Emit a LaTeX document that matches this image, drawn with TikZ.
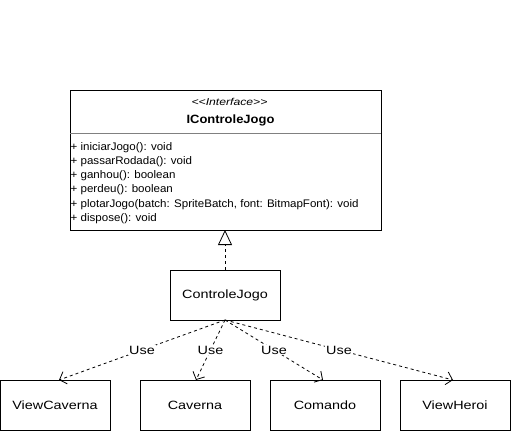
\documentclass[tikz,border=0pt]{standalone}
\usepackage{fontspec}
\setmainfont{Liberation Sans}
\newfontfamily\labfont[FakeStretch=1.2]{Liberation Sans}
\newfontfamily\methfont[FakeStretch=1.05]{Liberation Sans}
\newfontfamily\namefont[FakeStretch=1.08]{Liberation Sans}
\newfontfamily\stereofont[FakeStretch=1.22]{Liberation Sans}
\usetikzlibrary{arrows.meta}
\begin{document}
\begin{tikzpicture}[x=1pt,y=-1pt,
  box/.style={draw,line width=1pt,minimum width=110pt,minimum height=50pt,inner sep=0pt,font=\labfont\fontsize{12}{14}\selectfont},
  dep/.style={dashed,dash pattern=on 3pt off 3pt,line width=0.8pt,-{Straight Barb[length=6pt,width=13pt]}},
  lbl/.style={fill=white,inner sep=1pt,font=\labfont\fontsize{12}{14}\selectfont},
  meth/.style={anchor=west,inner sep=0pt,font=\methfont\fontsize{11}{13}\selectfont}]
\useasboundingbox (0,0) rectangle (511,431);
% interface box
\node[draw,line width=1pt,minimum width=311pt,minimum height=140pt,inner sep=0pt,anchor=north west] (iface) at (70,90) {};
\draw[line width=0.6pt,gray] (70,133) -- (381,133);
\node[font=\stereofont\fontsize{10}{12}\selectfont\itshape,inner sep=0pt] (stereo) at (229.5,102) {{<}{<}Interface{>}{>}};
\node[font=\namefont\fontsize{12}{14}\selectfont\bfseries,inner sep=0pt] (iname) at (230.5,120.5) {IControleJogo};
\node[meth] (m1) at (70.5,148) {+ iniciarJogo(): void};
\node[meth] (m2) at (70.5,162) {+ passarRodada(): void};
\node[meth] (m3) at (70.5,176) {+ ganhou(): boolean};
\node[meth] (m4) at (70.5,190) {+ perdeu(): boolean};
\node[meth] (m5) at (70.5,204.5) {+ plotarJogo(batch: SpriteBatch, font: BitmapFont): void};
\node[meth] (m6) at (70.5,218.5) {+ dispose(): void};
% classes
\node[box] (cj) at (225,295) {ControleJogo};
\node[box] (vc) at (55,405) {ViewCaverna};
\node[box] (cav) at (195,405) {Caverna};
\node[box] (com) at (325,405) {Comando};
\node[box] (vh) at (455,405) {ViewHeroi};
% realization
\coordinate (tip) at (225,230);
\draw[dashed,dash pattern=on 3pt off 3pt,line width=0.8pt,-{Triangle[open,length=15pt,width=14pt,line width=0.8pt]}] (cj.north) -- (tip);
% dependencies
\coordinate (src) at (225,320);
\coordinate (e1) at (59,380);
\coordinate (e2) at (196,380);
\coordinate (e3) at (323,380);
\coordinate (e4) at (453,380);
\draw[dep] (src) -- node[lbl] {Use} (e1);
\draw[dep] (src) -- node[lbl] {Use} (e2);
\draw[dep] (src) -- node[lbl] {Use} (e3);
\draw[dep] (src) -- node[lbl] {Use} (e4);
\end{tikzpicture}
\end{document}
